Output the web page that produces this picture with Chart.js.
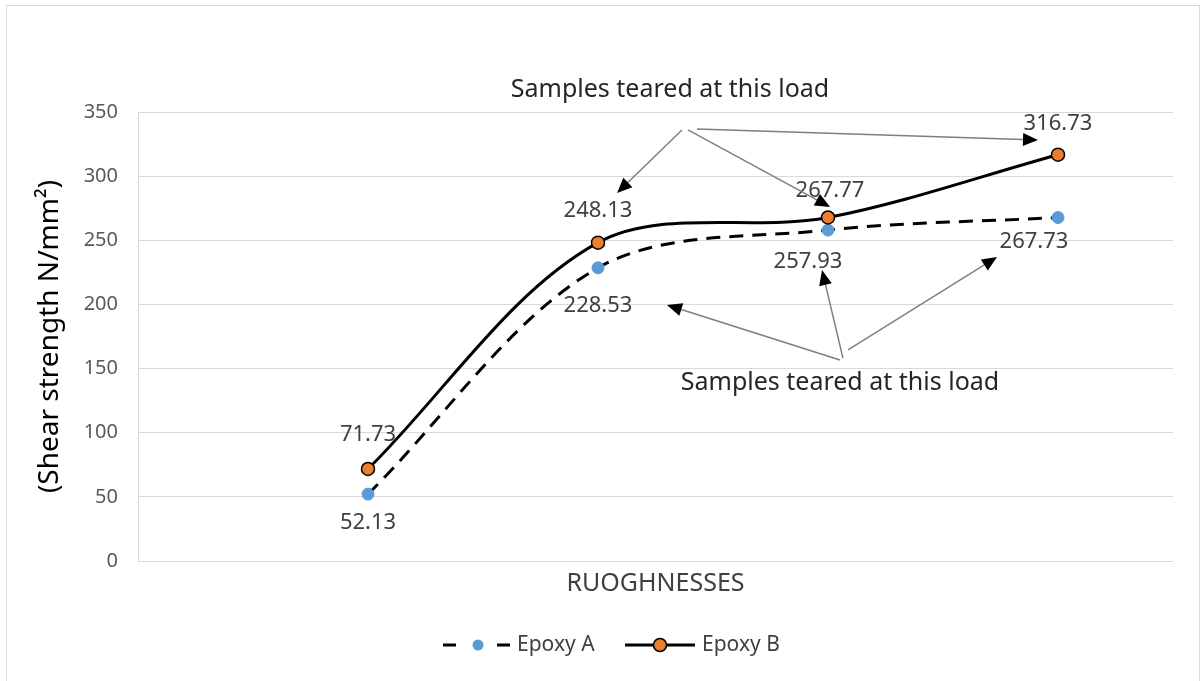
<!DOCTYPE html>
<html>
<head>
<meta charset="utf-8">
<script src="https://cdn.jsdelivr.net/npm/chart.js@4/dist/chart.umd.min.js"></script>
<style>
    html, body { margin: 0; padding: 0; background: #fff; }
    #frame {
        position: absolute; left: 6px; top: 5px; width: 1194px; height: 700px;
        border: 1px solid #d9d9d9; box-sizing: border-box;
    }
    #chart { position: absolute; left: 0; top: 0; }
</style>
</head>
<body>
<div id="frame"></div>
<canvas id="chart" width="1202" height="681"></canvas>
<script>
// 
// Chart data.
// 
var roughness = [1, 2, 3, 4];
var epoxyA = [52.13, 228.53, 257.93, 267.73];
var epoxyB = [71.73, 248.13, 267.77, 316.73];
var seriesNames = ['Epoxy A', 'Epoxy B'];
var yTicks = [0, 50, 100, 150, 200, 250, 300, 350];

var FONT = '"Noto Sans", "Open Sans", sans-serif';

// 
// Value label nudges (pixels, dx/dy from the point) per series.
// 
var labelShiftA = [[0, 29], [0, 38], [-20, 32], [-24, 24]];
var labelShiftB = [[0, -34], [0, -32], [2, -27], [0, -31]];

// 
// Annotations in data units: text and arrows (from -> to).
// 
var notes = [
    {text: 'Samples teared at this load', x: 2.313, y: 367.5},
    {text: 'Samples teared at this load', x: 3.052, y: 139.0}
];
var arrows = [
    [2.365, 336.0, 2.083, 286.9],
    [2.391, 336.0, 3.009, 276.0],
    [2.430, 336.8, 3.913, 328.2],
    [3.052, 156.7, 2.300, 199.6],
    [3.065, 158.2, 2.974, 226.8],
    [3.087, 164.5, 3.735, 237.0]
];

function toPoints(values) {
    return values.map(function (v, i) {
        return {x: roughness[i], y: v};
    });
}

// 
// Draw value labels, arrows, notes and the legend.
// 
var decorations = {
    id: 'decorations',
    afterDatasetsDraw: function (chart) {
        var ctx = chart.ctx;
        var sx = chart.scales.x, sy = chart.scales.y;

        ctx.save();
        ctx.font = '22px ' + FONT;
        ctx.fillStyle = '#404040';
        ctx.textAlign = 'center';
        ctx.textBaseline = 'middle';
        [labelShiftA, labelShiftB].forEach(function (shift, d) {
            var meta = chart.getDatasetMeta(d);
            var values = d === 0 ? epoxyA : epoxyB;
            meta.data.forEach(function (pt, i) {
                ctx.fillText(values[i].toFixed(2), pt.x + shift[i][0], pt.y + shift[i][1]);
            });
        });

        // Arrows
        arrows.forEach(function (a) {
            var x1 = sx.getPixelForValue(a[0]), y1 = sy.getPixelForValue(a[1]);
            var x2 = sx.getPixelForValue(a[2]), y2 = sy.getPixelForValue(a[3]);
            var ang = Math.atan2(y2 - y1, x2 - x1);
            var len = 15, half = 6.5;
            var bx = x2 - len * Math.cos(ang), by = y2 - len * Math.sin(ang);
            ctx.strokeStyle = '#7f7f7f';
            ctx.lineWidth = 1.5;
            ctx.beginPath();
            ctx.moveTo(x1, y1);
            ctx.lineTo(bx, by);
            ctx.stroke();
            ctx.fillStyle = '#000';
            ctx.beginPath();
            ctx.moveTo(x2, y2);
            ctx.lineTo(bx + half * Math.sin(ang), by - half * Math.cos(ang));
            ctx.lineTo(bx - half * Math.sin(ang), by + half * Math.cos(ang));
            ctx.closePath();
            ctx.fill();
        });

        // Notes
        ctx.font = '25px ' + FONT;
        ctx.fillStyle = '#262626';
        notes.forEach(function (n) {
            ctx.fillText(n.text, sx.getPixelForValue(n.x), sy.getPixelForValue(n.y));
        });

        // Legend
        var ly = 645;
        ctx.font = '21px ' + FONT;
        ctx.textAlign = 'left';
        ctx.strokeStyle = '#000';
        ctx.lineWidth = 3;
        ctx.beginPath();
        ctx.moveTo(443, ly); ctx.lineTo(456, ly);
        ctx.moveTo(497, ly); ctx.lineTo(510, ly);
        ctx.moveTo(625, ly); ctx.lineTo(695, ly);
        ctx.stroke();
        ctx.fillStyle = '#5B9BD5';
        ctx.beginPath(); ctx.arc(478, ly, 5.5, 0, Math.PI * 2); ctx.fill();
        ctx.fillStyle = '#ED7D31';
        ctx.lineWidth = 1.5;
        ctx.beginPath(); ctx.arc(660, ly, 6.5, 0, Math.PI * 2); ctx.fill(); ctx.stroke();
        ctx.fillStyle = '#404040';
        ctx.fillText(seriesNames[0], 517, ly);
        ctx.fillText(seriesNames[1], 702, ly);
        ctx.restore();
    }
};

var chart = new Chart(document.getElementById('chart'), {
    type: 'line',
    data: {
        datasets: [
            {
                label: seriesNames[0],
                data: toPoints(epoxyA),
                borderColor: '#000',
                borderWidth: 3,
                borderDash: [14, 9],
                tension: 0.33,
                pointRadius: 6,
                pointBackgroundColor: '#5B9BD5',
                pointBorderColor: '#5B9BD5',
                pointBorderWidth: 1,
                order: 2
            },
            {
                label: seriesNames[1],
                data: toPoints(epoxyB),
                borderColor: '#000',
                borderWidth: 3,
                tension: 0.33,
                pointRadius: 6.5,
                pointBackgroundColor: '#ED7D31',
                pointBorderColor: '#000',
                pointBorderWidth: 1.5,
                order: 1
            }
        ]
    },
    options: {
        responsive: false,
        animation: false,
        layout: {padding: {left: 0, top: 112, right: 29, bottom: 0}},
        plugins: {legend: {display: false}, tooltip: {enabled: false}},
        scales: {
            x: {
                type: 'linear',
                min: 0,
                max: 4.5,
                grid: {display: false},
                border: {display: false},
                ticks: {display: false},
                title: {
                    display: true,
                    text: 'RUOGHNESSES',
                    color: '#404040',
                    font: {family: FONT, size: 25},
                    padding: {top: 0, bottom: 82}
                },
                afterFit: function (scale) { scale.height = 120; }
            },
            y: {
                min: 0,
                max: 350,
                afterBuildTicks: function (scale) {
                    scale.ticks = yTicks.map(function (v) { return {value: v}; });
                },
                grid: {color: '#d9d9d9', drawTicks: false},
                border: {display: true, color: '#d9d9d9'},
                ticks: {color: '#595959', font: {family: FONT, size: 20}, padding: 20},
                title: {
                    display: true,
                    text: '(Shear strength N/mm\u00B2)',
                    color: '#000',
                    font: {family: FONT, size: 28},
                    padding: {top: 33, bottom: 0}
                },
                afterFit: function (scale) { scale.width = 138; }
            }
        }
    },
    plugins: [decorations]
});
</script>
</body>
</html>
